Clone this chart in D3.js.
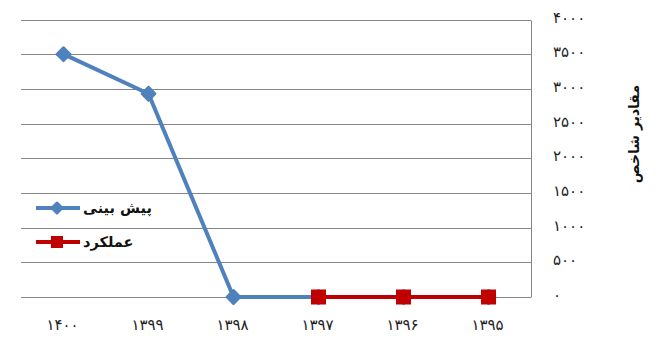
<!DOCTYPE html>
<html>
<head>
<meta charset="utf-8">
<script src="https://cdn.jsdelivr.net/npm/d3@7"></script>
<style>
html,body{margin:0;padding:0;background:#fff;}
svg{display:block;font-family:"DejaVu Sans",sans-serif;}
</style>
</head>
<body>
<svg id="chart" width="663" height="351"></svg>
<script>
const categories = ["۱۴۰۰","۱۳۹۹","۱۳۹۸","۱۳۹۷","۱۳۹۶","۱۳۹۵"];
const forecast = [3500, 2930, 0, 0, 0, 0];
const actual = [null, null, null, 0, 0, 0];
const yTicks = [0,500,1000,1500,2000,2500,3000,3500,4000];
const yTickLabels = ["۰","۵۰۰","۱۰۰۰","۱۵۰۰","۲۰۰۰","۲۵۰۰","۳۰۰۰","۳۵۰۰","۴۰۰۰"];
const seriesNames = ["پیش بینی","عملکرد"];
const yTitle = "مقادیر شاخص";

(function () {
const svg = d3.select("#chart");
const pLeft = 21, pRight = 531, pTop = 19.5, pBottom = 297;
const x = d3.scaleBand().domain(categories).range([pLeft, pRight]).padding(0);
const y = d3.scaleLinear().domain([0, 4000]).range([pBottom, pTop]);
const cx = c => x(c) + x.bandwidth() / 2;

// gridlines
svg.append("g").selectAll("line").data(yTicks).join("line")
  .attr("x1", pLeft).attr("x2", pRight)
  .attr("y1", d => Math.round(y(d)) + 0.5).attr("y2", d => Math.round(y(d)) + 0.5)
  .attr("stroke", "#868686").attr("stroke-width", 1);
// right border
svg.append("line").attr("x1", pRight + 0.5).attr("x2", pRight + 0.5)
  .attr("y1", Math.round(y(4000)) + 0.5).attr("y2", Math.round(y(0)) + 0.5)
  .attr("stroke", "#868686");

// y tick labels
svg.append("g").selectAll("text").data(yTicks).join("text")
  .attr("x", 553).attr("y", d => y(d) + 3)
  .attr("font-size", 15).attr("letter-spacing", 1).attr("fill", "#222")
  .attr("direction", "ltr").attr("text-anchor", "start")
  .text((d, i) => yTickLabels[i]);

// x tick labels
svg.append("g").selectAll("text").data(categories).join("text")
  .attr("x", d => cx(d) - 1).attr("y", 330)
  .attr("font-size", 15).attr("letter-spacing", 1).attr("fill", "#222").attr("text-anchor", "middle")
  .text(d => d);

// y title
svg.append("text")
  .attr("transform", "translate(639,134) rotate(-90)")
  .attr("text-anchor", "middle").attr("font-size", 14).attr("font-weight", "bold")
  .attr("fill", "#111").text(yTitle);

const blue = "#4f81bd", red = "#c00000";
const line = d3.line().defined(d => d.v !== null).x(d => cx(d.c)).y(d => y(d.v));
const fData = categories.map((c, i) => ({c, v: forecast[i]}));
const aData = categories.map((c, i) => ({c, v: actual[i]}));

svg.append("path").datum(fData).attr("d", line)
  .attr("fill", "none").attr("stroke", blue).attr("stroke-width", 4).attr("stroke-linejoin", "round");
svg.append("g").selectAll("rect").data(fData).join("rect")
  .attr("x", -6).attr("y", -6).attr("width", 12).attr("height", 12).attr("rx", 1.5)
  .attr("transform", d => `translate(${cx(d.c)},${y(d.v)}) rotate(45)`)
  .attr("fill", blue);

const aDef = aData.filter(d => d.v !== null);
svg.append("path").datum(aData).attr("d", line)
  .attr("fill", "none").attr("stroke", red).attr("stroke-width", 4);
svg.append("g").selectAll("rect").data(aDef).join("rect")
  .attr("x", d => cx(d.c) - 7.5).attr("y", d => y(d.v) - 7.5)
  .attr("width", 15).attr("height", 15).attr("fill", red);

// legend
const lg = svg.append("g");
const items = [{name: seriesNames[0], color: blue, sym: "diamond", y: 208},
               {name: seriesNames[1], color: red, sym: "square", y: 242}];
items.forEach(it => {
  lg.append("line").attr("x1", 36).attr("x2", 80).attr("y1", it.y).attr("y2", it.y)
    .attr("stroke", it.color).attr("stroke-width", 4);
  if (it.sym === "diamond") {
    lg.append("rect").attr("x", -5).attr("y", -5).attr("width", 10).attr("height", 10).attr("rx", 1.5)
      .attr("transform", `translate(57,${it.y}) rotate(45)`).attr("fill", it.color);
  } else {
    lg.append("rect").attr("x", 51).attr("y", it.y - 6).attr("width", 12).attr("height", 12).attr("fill", it.color);
  }
  lg.append("text").attr("x", 83).attr("y", it.y + 5).attr("text-anchor", "start").attr("direction", "ltr")
    .attr("font-size", 14.5).attr("font-weight", "bold").attr("fill", "#111").text(it.name);
});
})();
</script>
</body>
</html>
